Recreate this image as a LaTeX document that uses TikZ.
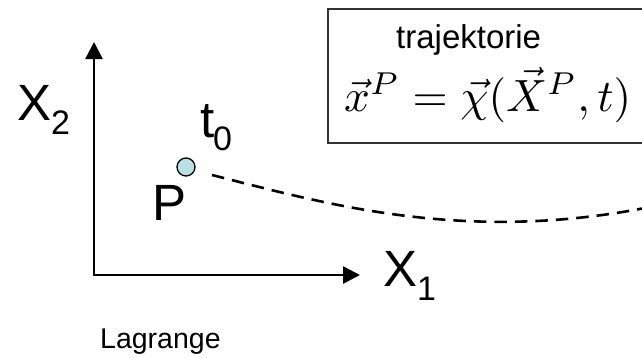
\documentclass[tikz,border=0pt]{standalone}
\usepackage{graphicx}
\usepackage{fontspec}
\setmainfont{Liberation Sans}
\usetikzlibrary{arrows.meta}
\definecolor{dotfill}{RGB}{185,224,226}
\definecolor{boxline}{RGB}{50,50,50}
\tikzset{
  axisline/.style={line width=2.5pt, {Triangle[length=17pt,width=17pt]}-{Triangle[length=17pt,width=17pt]}},
  bigtxt/.style={inner sep=0pt, anchor=base west, font=\fontsize{51}{51}\selectfont},
  subtxt/.style={inner sep=0pt, anchor=base west, font=\fontsize{34}{34}\selectfont},
  traj/.style={line width=2.6pt, dash pattern=on 12.5pt off 8pt},
  framebox/.style={draw=boxline, line width=2pt, anchor=north west, minimum width=340pt, minimum height=134pt, inner sep=0pt},
}
\begin{document}
\begin{tikzpicture}[x=1pt,y=-1pt]
\clip (0,0) rectangle (642,357);
\useasboundingbox (0,0) rectangle (642,357);
% axes
\coordinate (origin) at (94,275);
\coordinate (ytip) at (94,42);
\coordinate (xtip) at (360,275);
\draw[axisline] (ytip) |- (xtip);
% axis labels
\node[bigtxt] (x2) at (17,120) {X};
\node[subtxt] (x2s) at (51,134) {2};
\node[bigtxt] (x1) at (383,286) {X};
\node[subtxt] (x1s) at (417,300) {1};
% point
\node[circle, draw, line width=1.3pt, fill=dotfill, minimum size=18pt, inner sep=0pt] (pt) at (186,167) {};
\node[bigtxt] (plab) at (152,220) {P};
\node[bigtxt] (tlab) at (200,137) {t};
\node[subtxt] (tsub) at (213,150) {0};
% trajectory
\coordinate (cstart) at (212,175);
\coordinate (cend) at (660,205);
\draw[traj] (cstart) .. controls (330,205) and (470,245) .. (cend);
% box
\node[framebox] (box) at (327,8) {};
\node[inner sep=0pt, anchor=base west, font=\fontsize{33}{33}\selectfont] (trajlab) at (396,48) {trajektorie};
\node[inner sep=0pt, anchor=base west] (formula) at (344,111) {\resizebox{287pt}{!}{$\vec{x}^P=\vec{\chi}(\vec{X}^P,t)$}};
% caption
\node[inner sep=0pt, anchor=base west, font=\fontsize{28.5}{28.5}\selectfont] (lag) at (100,348) {Lagrange};
\end{tikzpicture}
\end{document}
